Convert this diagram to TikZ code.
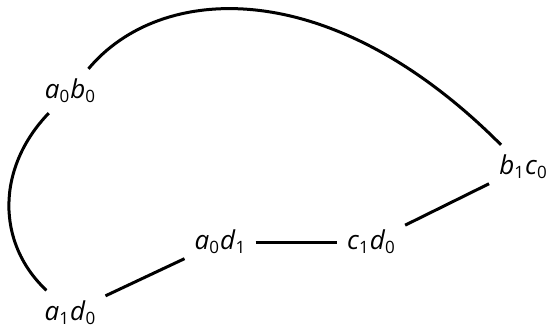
\documentclass[tikz,border=0pt]{standalone}
\usepackage{fontspec}
\setmainfont{Open Sans}
\newcommand\lsub[1]{\raisebox{-4bp}{\fontsize{17bp}{17bp}\selectfont #1}}
\newcommand\lbl[4]{\textit{#1}\lsub{#2}\hspace{1bp}\textit{#3}\lsub{#4}}
\begin{document}
\begin{tikzpicture}[x=1bp,y=1bp,
  vert/.style={inner sep=10bp, font=\fontsize{26bp}{30bp}\selectfont},
  edge/.style={line width=3bp}]
\useasboundingbox (0,0) rectangle (550,328);
\node[vert] (a0b0) at (70,237) {\lbl{a}{0}{b}{0}};
\node[vert] (a1d0) at (70,15.5) {\lbl{a}{1}{d}{0}};
\node[vert] (a0d1) at (220,86) {\lbl{a}{0}{d}{1}};
\node[vert] (c1d0) at (371,86) {\lbl{c}{1}{d}{0}};
\node[vert] (b1c0) at (523,161) {\lbl{b}{1}{c}{0}};
\draw[edge] (a0d1) -- (c1d0);
\draw[edge] (a1d0) -- (a0d1);
\draw[edge] (c1d0) -- (b1c0);
\draw[edge] (a0b0) .. controls (-4,160) and (-4,85) .. (a1d0);
\draw[edge] (a0b0) .. controls (160,345) and (330,355) .. (b1c0);
\end{tikzpicture}
\end{document}
